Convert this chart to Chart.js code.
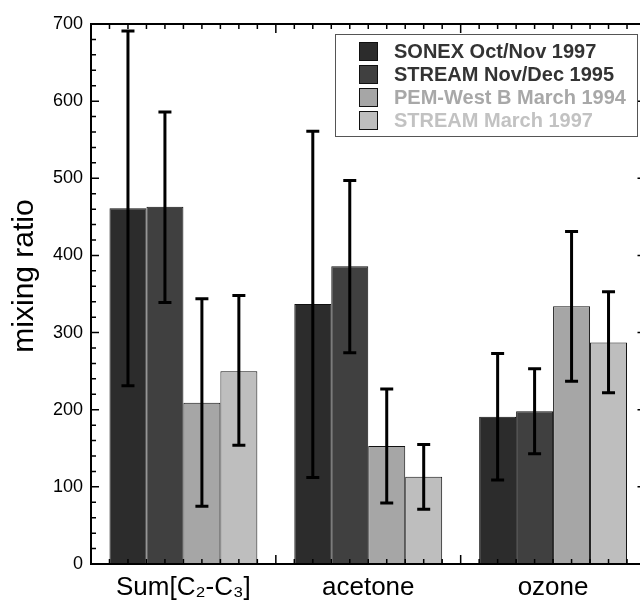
<!DOCTYPE html>
<html><head><meta charset="utf-8">
<script src="https://cdn.jsdelivr.net/npm/chart.js@4/dist/chart.umd.min.js"></script>
<style>
html,body{margin:0;padding:0;overflow:hidden;background:#fff;width:640px;height:603px}
#wrap{position:relative;width:660px;height:603px}
</style>
</head><body><div id="wrap"><canvas id="c" width="660" height="603"></canvas></div>
<script>
// ---- data ----
const categories = ['Sum[C₂-C₃]', 'acetone', 'ozone'];
const seriesNames = ['SONEX Oct/Nov 1997', 'STREAM Nov/Dec 1995', 'PEM-West B March 1994', 'STREAM March 1997'];
const sonex      = [461, 337, 191];
const sonexLow   = [231, 112, 109];
const sonexHigh  = [691, 561, 273];
const stream95     = [463, 386, 198];
const stream95Low  = [339, 274, 143];
const stream95High = [586, 497, 253];
const pem      = [209, 153, 334];
const pemLow   = [75, 79, 237];
const pemHigh  = [344, 227, 431];
const stream97     = [250, 113, 287];
const stream97Low  = [154, 71, 222];
const stream97High = [348, 155, 353];
const yTickValues = [0, 100, 200, 300, 400, 500, 600, 700];
const yTitle = 'mixing ratio';

// ---- styles ----
const barColors = ['#2c2c2c', '#404040', '#a6a6a6', '#bebebe'];
const legendTextColors = ['#333333', '#333333', '#a8a8a8', '#c2c2c2'];
const FONT = "'Liberation Sans', Arial, Helvetica, 'DejaVu Sans', sans-serif";

const values = [sonex, stream95, pem, stream97];
const lows = [sonexLow, stream95Low, pemLow, stream97Low];
const highs = [sonexHigh, stream95High, pemHigh, stream97High];

const datasets = seriesNames.map((name, i) => ({
  label: name,
  data: values[i],
  errLow: lows[i],
  errHigh: highs[i],
  backgroundColor: barColors[i],
  borderColor: '#111',
  borderWidth: 1,
  borderSkipped: 'start',
  categoryPercentage: 0.8,
  barPercentage: 1.0,
  legendTextColor: legendTextColors[i]
}));

const errorBars = {
  id: 'errorBars',
  afterDatasetsDraw(chart) {
    const {ctx, scales: {y}} = chart;
    ctx.save();
    ctx.strokeStyle = '#000';
    ctx.lineWidth = 3;
    ctx.lineCap = 'butt';
    chart.data.datasets.forEach((ds, di) => {
      const meta = chart.getDatasetMeta(di);
      meta.data.forEach((bar, j) => {
        const yh = y.getPixelForValue(ds.errHigh[j]);
        const yl = y.getPixelForValue(ds.errLow[j]);
        const cap = 6.5;
        ctx.beginPath();
        ctx.moveTo(bar.x, yh); ctx.lineTo(bar.x, yl);
        ctx.moveTo(bar.x - cap, yh); ctx.lineTo(bar.x + cap, yh);
        ctx.moveTo(bar.x - cap, yl); ctx.lineTo(bar.x + cap, yl);
        ctx.stroke();
      });
    });
    ctx.restore();
  }
};

const frame = {
  id: 'frame',
  afterDraw(chart) {
    const {ctx, chartArea: a, scales: {x, y}} = chart;
    ctx.save();
    ctx.strokeStyle = '#000';
    ctx.lineWidth = 1.5;
    ctx.beginPath();
    // y ticks (left and right, inward)
    const ymax = y.max;
    for (let v = 0; v <= ymax; v += 20) {
      const py = y.getPixelForValue(v);
      const len = (v % 100 === 0) ? 8 : 5;
      ctx.moveTo(a.left, py); ctx.lineTo(a.left + len, py);
      ctx.moveTo(a.right, py); ctx.lineTo(a.right - len, py);
    }
    // x ticks (bottom and top, inward)
    const c0 = x.getPixelForValue(0), c1 = x.getPixelForValue(1);
    const cw = c1 - c0;
    const start = c0 - cw / 2;
    const n = categories.length * 10;
    for (let k = 0; k <= n; k++) {
      const px = start + k * cw / 10;
      const len = (k % 10 === 0) ? 9 : 5;
      ctx.moveTo(px, a.bottom); ctx.lineTo(px, a.bottom - len);
      ctx.moveTo(px, a.top); ctx.lineTo(px, a.top + len);
    }
    ctx.stroke();
    ctx.lineWidth = 2;
    ctx.strokeRect(a.left, a.top, a.right - a.left, a.bottom - a.top);

    // y title
    ctx.save();
    ctx.translate(33, (a.top + a.bottom) / 2 - 18);
    ctx.rotate(-Math.PI / 2);
    ctx.fillStyle = '#000';
    ctx.font = '30px ' + FONT;
    ctx.textAlign = 'center';
    ctx.textBaseline = 'alphabetic';
    ctx.fillText(yTitle, 0, 0);
    ctx.restore();

    // legend box
    const bx = 335, by = 34, bw = 302, bh = 102;
    ctx.fillStyle = '#fff';
    ctx.fillRect(bx, by, bw, bh);
    ctx.lineWidth = 1;
    ctx.strokeStyle = '#555';
    ctx.strokeRect(bx + 0.5, by + 0.5, bw, bh);
    ctx.font = 'bold 20px ' + FONT;
    ctx.textAlign = 'left';
    ctx.textBaseline = 'alphabetic';
    chart.data.datasets.forEach((ds, i) => {
      const ry = 42 + i * 23;
      ctx.fillStyle = ds.backgroundColor;
      ctx.fillRect(359, ry, 18, 18);
      ctx.strokeStyle = '#111';
      ctx.strokeRect(359.5, ry + 0.5, 18, 18);
      ctx.fillStyle = ds.legendTextColor;
      ctx.fillText(ds.label, 394, 58 + i * 23);
    });
    ctx.restore();
  }
};

new Chart(document.getElementById('c'), {
  type: 'bar',
  data: { labels: categories, datasets },
  options: {
    responsive: false,
    animation: false,
    layout: { padding: { top: 24, right: 14.5, left: 0, bottom: 0 } },
    plugins: { legend: { display: false }, tooltip: { enabled: false } },
    scales: {
      x: {
        grid: { display: false, drawTicks: false },
        border: { display: false },
        ticks: { color: '#000', font: { family: FONT, size: 26 }, padding: 8, maxRotation: 0 },
        afterFit(scale) { scale.height = 39; }
      },
      y: {
        min: 0, max: 700,
        afterBuildTicks(scale) { scale.ticks = yTickValues.map(v => ({ value: v })); },
        grid: { display: false, drawTicks: false },
        border: { display: false },
        ticks: { color: '#000', font: { family: FONT, size: 18 }, padding: 8 },
        afterFit(scale) { scale.width = 91; }
      }
    }
  },
  plugins: [errorBars, frame]
});
</script>
</body></html>
